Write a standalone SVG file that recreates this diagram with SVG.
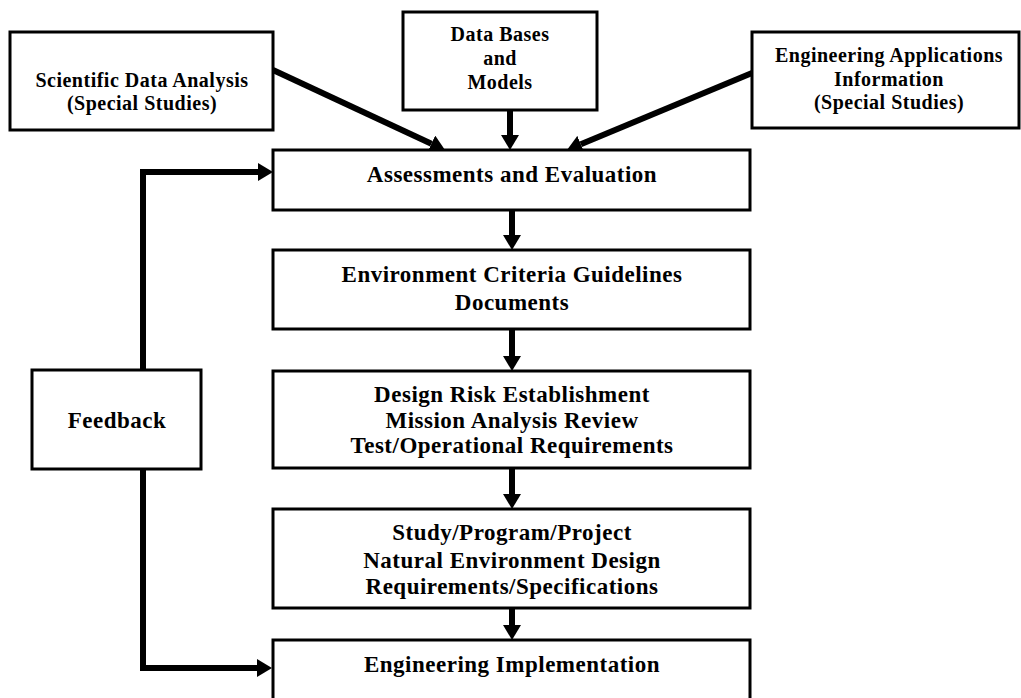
<svg xmlns="http://www.w3.org/2000/svg" width="1021" height="698" viewBox="0 0 1021 698">
<defs>
<style>
.box{fill:#fff;stroke:#000;stroke-width:3}
.t{font-family:"Liberation Serif","Times New Roman",serif;font-weight:bold;fill:#000;text-anchor:middle;letter-spacing:0.5px}
.m{font-size:23px}
.s{font-size:20px}
.c{fill:none;stroke:#000;stroke-width:6;stroke-linejoin:miter}
</style>
<marker id="ah" markerUnits="userSpaceOnUse" markerWidth="16" markerHeight="18" refX="0" refY="9" orient="auto" viewBox="0 0 16 18">
<path d="M0,0 L15,9 L0,18 z" fill="#000"/>
</marker>
</defs>
<rect width="1021" height="698" fill="#fff"/>
<g id="connectors">
<path class="c" d="M273,70 L431.4,143.7" marker-end="url(#ah)"/>
<path class="c" d="M510,110 V135" marker-end="url(#ah)"/>
<path class="c" d="M752,73 L580.8,144.2" marker-end="url(#ah)"/>
<path class="c" d="M512,210 V235" marker-end="url(#ah)"/>
<path class="c" d="M512,329 V356" marker-end="url(#ah)"/>
<path class="c" d="M512,468 V494" marker-end="url(#ah)"/>
<path class="c" d="M512,608 V625" marker-end="url(#ah)"/>
<path class="c" d="M143,370 V172 H258" marker-end="url(#ah)"/>
<path class="c" d="M143,469 V668 H257" marker-end="url(#ah)"/>
</g>
<g id="scientific">
<rect class="box" x="10" y="32" width="263" height="98"/>
<text class="t s" x="142" y="87">Scientific Data Analysis</text>
<text class="t s" x="142" y="110">(Special Studies)</text>
</g>
<g id="databases">
<rect class="box" x="403" y="12" width="194" height="98"/>
<text class="t s" x="500" y="41">Data Bases</text>
<text class="t s" x="500" y="65">and</text>
<text class="t s" x="500" y="89">Models</text>
</g>
<g id="engapps">
<rect class="box" x="752" y="32" width="267" height="96"/>
<text class="t s" x="889" y="62">Engineering Applications</text>
<text class="t s" x="889" y="86">Information</text>
<text class="t s" x="889" y="109">(Special Studies)</text>
</g>
<g id="assessments">
<rect class="box" x="273" y="150" width="477" height="60"/>
<text class="t m" x="512" y="182">Assessments and Evaluation</text>
</g>
<g id="criteria">
<rect class="box" x="273" y="250" width="477" height="79"/>
<text class="t m" x="512" y="282">Environment Criteria Guidelines</text>
<text class="t m" x="512" y="310">Documents</text>
</g>
<g id="designrisk">
<rect class="box" x="273" y="371" width="477" height="97"/>
<text class="t m" x="512" y="402">Design Risk Establishment</text>
<text class="t m" x="512" y="428">Mission Analysis Review</text>
<text class="t m" x="512" y="453">Test/Operational Requirements</text>
</g>
<g id="study">
<rect class="box" x="273" y="509" width="477" height="99"/>
<text class="t m" x="512" y="540">Study/Program/Project</text>
<text class="t m" x="512" y="568">Natural Environment Design</text>
<text class="t m" x="512" y="594">Requirements/Specifications</text>
</g>
<g id="implementation">
<rect class="box" x="273" y="640" width="477" height="80"/>
<text class="t m" x="512" y="672">Engineering Implementation</text>
</g>
<g id="feedback">
<rect class="box" x="32" y="370" width="169" height="99"/>
<text class="t m" x="117" y="428">Feedback</text>
</g>
</svg>
